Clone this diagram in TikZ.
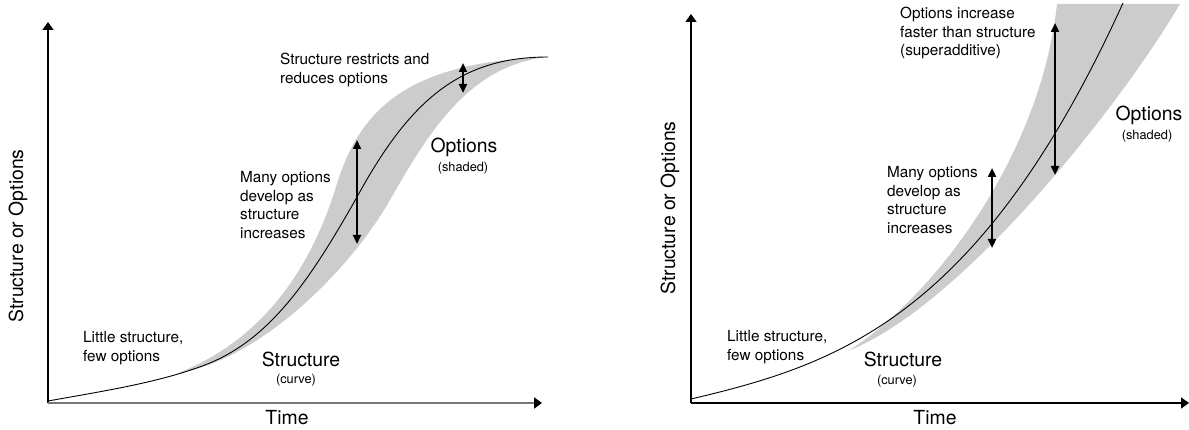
\documentclass[tikz,border=0pt]{standalone}
\usepackage{fontspec}
\setmainfont{TeX Gyre Heros}
\usetikzlibrary{arrows.meta}

\definecolor{bandgray}{HTML}{CCCCCC}
\definecolor{axisgray}{HTML}{777777}

\begin{document}
\begin{tikzpicture}
[x=1pt,y=-1pt,every node/.style={inner sep=0pt},
 mid/.style={font=\fontsize{15.3}{18.5}\selectfont,align=left,anchor=west},
 big/.style={font=\fontsize{19.4}{23}\selectfont},
 small/.style={font=\fontsize{12.8}{15}\selectfont},
 axis/.style={line width=1.4pt,-{Triangle[length=8pt,width=11pt,color=black]}},
 optarrow/.style={line width=2.2pt,{Triangle[length=9pt,width=8pt]}-{Triangle[length=9pt,width=8pt]}}]
\useasboundingbox (0,0) rectangle (1189,430);

% left panel: options band and structure curve
\fill[bandgray] (178,373) .. controls (250,345) and (305,285) .. (335,190)
 .. controls (357,115) and (400,62) .. (548,57)
 .. controls (470,65) and (430,130) .. (390,200)
 .. controls (350,270) and (260,360) .. cycle;
\draw[line width=0.9pt] (48,401) .. controls (110,390) and (160,382) .. (205,365)
 .. controls (270,340) and (310,280) .. (357,197)
 .. controls (410,100) and (460,57) .. (548,57);

% right panel
\fill[bandgray] (848,351) .. controls (930,300) and (1040,160) .. (1057,4)
 -- (1180,4) .. controls (1120,106) and (962,306) .. cycle;
\draw[line width=0.9pt] (691,399) .. controls (835,365) and (979,320) .. (1123,3);

\coordinate (origL) at (48,403);
\coordinate (yTipL) at (48,22);
\coordinate (xTipL) at (542,403);
\coordinate (origR) at (691,403);
\coordinate (yTipR) at (691,14);
\coordinate (xTipR) at (1189,403);
\coordinate (manyTopL) at (357,140);
\coordinate (manyBotL) at (357,244);
\coordinate (restrTopL) at (463,63);
\coordinate (restrBotL) at (463,93);
\coordinate (manyTopR) at (992,168);
\coordinate (manyBotR) at (992,248);
\coordinate (fastTopR) at (1055,23);
\coordinate (fastBotR) at (1055,175);

\draw[axis] (origL) -- (yTipL);
\draw[axis,draw=axisgray,line width=2pt] (origL) -- (xTipL);
\draw[axis] (origR) -- (yTipR);
\draw[axis] (origR) -- (xTipR);
\foreach \from/\to in {manyTopL/manyBotL,restrTopL/restrBotL,manyTopR/manyBotR,fastTopR/fastBotR}
\draw[optarrow] (\from) -- (\to);

\node[big,rotate=90] (ylabL) at (18,236) {Structure or Options};
\node[big] (timeL) at (287,418) {Time};
\node[mid] (littleL) at (83,348) {Little structure,\\few options};
\node[big] (structL) at (301,359) {Structure};
\node[small] (curveL) at (296,380) {(curve)};
\node[big] (optsL) at (464,147) {Options};
\node[small] (shadedL) at (463,168) {(shaded)};
\node[mid] (manyL) at (240,205) {Many options\\develop as\\structure\\increases};
\node[mid] (restrL) at (280,70) {Structure restricts and\\reduces options};

\node[big,rotate=90] (ylabR) at (670,208) {Structure or Options};
\node[big] (timeR) at (935,418) {Time};
\node[mid] (littleR) at (727,347) {Little structure,\\few options};
\node[big] (structR) at (903,359) {Structure};
\node[small] (curveR) at (897,381) {(curve)};
\node[big] (optsR) at (1149,115) {Options};
\node[small] (shadedR) at (1147,136) {(shaded)};
\node[mid] (manyR) at (887,200) {Many options\\develop as\\structure\\increases};
\node[mid] (fastR) at (900,33) {Options increase\\faster than structure\\(superadditive)};
\end{tikzpicture}
\end{document}
